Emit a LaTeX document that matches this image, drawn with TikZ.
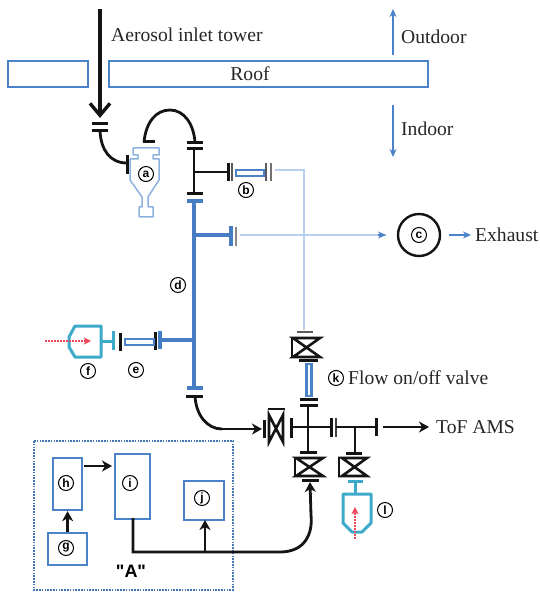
\documentclass[tikz,border=0pt]{standalone}
\usepackage{fontspec}
\setmainfont{Liberation Serif}
\setsansfont{Liberation Sans}
\newfontfamily\qfont{Liberation Sans}
\usetikzlibrary{arrows.meta,calc}
\definecolor{bl}{RGB}{75,130,200}
\definecolor{blb}{RGB}{70,125,195}
\definecolor{lb}{RGB}{185,208,238}
\definecolor{teal2}{RGB}{60,170,200}
\definecolor{rd}{RGB}{240,70,90}
\definecolor{dk}{RGB}{20,20,20}
\tikzset{
 x=1pt,y=-1pt,
 txt/.style={inner sep=0pt,anchor=west,font=\fontsize{19.6}{21}\selectfont,text=black!85},
 circ/.style={circle,draw=black,line width=1pt,fill=white,inner sep=0pt,minimum size=15pt,font=\sffamily\bfseries\fontsize{12}{12}\selectfont},
 pipe/.style={line width=2.8pt,draw=dk},
 fl/.style={line width=3pt,draw=dk},
 bpipe/.style={line width=3.6pt,draw=blb},
 bfl/.style={line width=3.6pt,draw=blb},
 thinb/.style={line width=1.6pt,draw=lb},
 boxb/.style={draw=bl,line width=2.2pt,fill=white,inner sep=0pt},
 tube/.style={draw=bl,line width=2.4pt,fill=white,inner sep=0pt},
 tl/.style={draw=teal2,line width=3pt,line join=round},
 hg/.style={draw=dk,line width=2.6pt,line join=miter},
 arr/.style={-{Stealth[length=10pt,width=11pt,inset=3pt]},line width=2.8pt,draw=dk},
 bluearr/.style={-{Stealth[length=8pt,width=7pt,inset=2.5pt]},line width=1.2pt,draw=bl},
 redarr/.style={-{Stealth[length=7pt,width=7pt,inset=1.5pt]},line width=1.3pt,draw=rd,dash pattern=on 2pt off 1pt},
}
\begin{document}
\begin{tikzpicture}
\useasboundingbox (0,0) rectangle (539,593);
% roof
\draw[draw=bl,line width=2pt] (8,61) rectangle (88,87);
\draw[draw=bl,line width=2pt] (109,61) rectangle (428,87);
\node[txt,anchor=center] (roof) at (250,74) {Roof};
\node[txt] (tower) at (111,35) {Aerosol inlet tower};
\node[txt] (outd) at (401,37) {Outdoor};
\node[txt] (ind) at (401,129) {Indoor};
\coordinate (ou0) at (393,55); \coordinate (ou1) at (393,9);
\coordinate (in0) at (393,105); \coordinate (in1) at (393,157);
\draw[bluearr] (ou0) -- (ou1);
\draw[bluearr] (in0) -- (in1);
% inlet
\coordinate (t0) at (100,9); \coordinate (t1) at (100,118);
\draw[-{Straight Barb[length=12pt,width=20pt]},line width=3.4pt,draw=dk] (t0) -- (t1);
\draw[fl] (92,124) -- (108,124); \draw[fl] (92,131) -- (108,131);
\coordinate (c0) at (100,131); \coordinate (c1) at (127,163);
\draw[pipe] (c0) .. controls (101,150) and (110,163) .. (c1);
\draw[fl] (127,155) -- (127,174);
% cyclone a
\draw[draw=lb!60!bl,line width=1.5pt,line join=round]
 (133,148)--(159,148)--(159,155)--(153,155)--(153,159)--(159,159)--(159,180)--(148,197)--(148,207)--(153,207)--(153,217)--(139,217)--(139,207)--(142,207)--(142,197)--(130,180)--(130,159)--(138,159)--(138,155)--(133,155)--cycle;
\draw[fl] (143,142) -- (155,142);
\coordinate (ca) at (144,142); \coordinate (cb) at (195,143); \coordinate (ct) at (170,110);
\draw[pipe] (ca) .. controls (146,122) and (156,110) .. (ct) .. controls (184,110) and (194,124) .. (cb);
\draw[fl] (187,143) -- (203,143); \draw[fl] (187,149) -- (203,149);
\coordinate (s0) at (194,149); \coordinate (s1) at (194,194); \coordinate (s2) at (194,172); \coordinate (s3) at (228,172);
\draw[pipe] (s0) -- (s1); \draw[pipe] (s2) -- (s3);
\draw[fl] (228,163) -- (228,181); \draw[line width=2.4pt,draw=dk!70] (232,163) -- (232,181);
\node[tube,minimum width=28pt,minimum height=6pt,anchor=west] (tb) at (235,173) {};
\draw[line width=2pt,draw=dk!70] (266,163) -- (266,181); \draw[line width=2pt,draw=dk!60] (271,163) -- (271,181);
\coordinate (l0) at (275,170); \coordinate (l1) at (304,170); \coordinate (l2) at (304,330);
\draw[thinb] (l0) -- (l1) -- (l2);
\draw[fl] (187,194) -- (203,194);
\draw[bfl] (187,201) -- (203,201);
% blue column
\coordinate (d0) at (194,201); \coordinate (d1) at (194,388);
\draw[bpipe] (d0) -- (d1);
\coordinate (d2) at (194,235); \coordinate (d3) at (231,235);
\draw[bpipe] (d2) -- (d3);
\draw[bfl] (231,226) -- (231,246);
\draw[line width=1.5pt,draw=dk!50] (236,227) -- (236,246);
\coordinate (ex0) at (240,235);
\node[circle,draw=dk,line width=2.4pt,minimum size=42pt,inner sep=0pt] (C) at (419,235) {};
\coordinate (ex1) at (386,235);
\draw[thinb] (ex0) -- (ex1);
\draw[-{Stealth[length=8pt,width=7pt,inset=2.5pt]},line width=1.2pt,draw=bl] (378,235) coordinate (ex2) (ex2) -- (ex1);
\coordinate (cx) at (471,235); \coordinate (cx0) at (449,235);
\draw[bluearr,line width=1.6pt] (cx0) -- (cx);
\node[txt,anchor=west] (exh) at (475,235) {Exhaust};
% e, f branch
\coordinate (d4) at (194,340); \coordinate (d5) at (160,340);
\draw[bpipe] (d4) -- (d5);
\draw[bfl] (160,331) -- (160,349);
\draw[fl] (155,332) -- (155,350);
\node[tube,minimum width=29pt,minimum height=6pt,anchor=west] (te) at (124,342) {};
\draw[fl] (120,333) -- (120,351);
\draw[tl] (113,331) -- (113,350);
\coordinate (f0) at (113,341); \coordinate (f1) at (101,341);
\draw[tl] (f0) -- (f1);
\draw[tl] (101,326) -- (75,326) -- (69,337) -- (69,347) -- (75,357) -- (101,357) -- cycle;
\coordinate (r0) at (45,341); \coordinate (r1) at (91,341);
\draw[redarr] (r0) -- (r1);
% lower column
\draw[bfl] (187,388) -- (203,388);
\draw[fl] (186,396) -- (203,396);
\coordinate (v0) at (195,396); \coordinate (v1) at (262,429); \coordinate (v2) at (222,429);
\draw[pipe] (v0) .. controls (196,415) and (207,429) .. (v2);
\draw[arr] (v2) -- (v1);
\draw[fl] (264,420) -- (264,438);
% left valve
\draw[hg] (269,415) -- (283,442) -- (283,415) -- (269,442) -- cycle;
\draw[hg] (268,409) -- (285,409);
% cross
\coordinate (cr) at (308,427);
\draw[fl] (291,418) -- (291,438);
\coordinate (h0) at (291,427); \coordinate (h1) at (331,427);
\draw[pipe] (h0) -- (h1);
\draw[fl] (331,418) -- (331,437); \draw[line width=2.4pt,draw=dk!80] (336,418) -- (336,437);
\coordinate (h2) at (336,427); \coordinate (h3) at (376,427);
\draw[pipe] (h2) -- (h3);
\draw[fl] (376,418) -- (376,436);
\coordinate (h4) at (383,427); \coordinate (h5) at (429,427);
\draw[arr] (h4) -- (h5);
\node[txt] (tof) at (436,427) {ToF AMS};
% top valve
\draw[line width=1.6pt,draw=dk!70] (297,332) -- (313,332);
\draw[hg] (293,338) -- (320,338) -- (293,357) -- (320,357) -- cycle;
\draw[hg] (292,337) -- (292,357);
\draw[fl] (299,360) -- (318,360);
\node[tube,minimum width=5pt,minimum height=32pt,anchor=north] (tk) at (309,363) {};
\draw[fl] (300,399) -- (318,399); \draw[fl] (300,405) -- (318,405);
\coordinate (k0) at (308,405); \coordinate (k1) at (308,452);
\draw[pipe] (k0) -- (k1);
% bottom valves
\draw[fl] (300,452) -- (317,452);
\draw[hg] (296,458) -- (323,458) -- (296,476) -- (323,476) -- cycle;
\draw[hg] (295,457) -- (295,477);
\draw[fl] (302,480) -- (319,480);
\coordinate (b0) at (355,427); \coordinate (b1) at (355,453);
\draw[pipe] (b0) -- (b1);
\draw[fl] (346,453) -- (362,453);
\draw[hg] (342,458) -- (367,458) -- (342,476) -- (367,476) -- cycle;
\draw[hg] (339,457) -- (339,477);
% l
\draw[tl] (348,481) -- (363,481);
\coordinate (l3) at (355,481); \coordinate (l4) at (355,494);
\draw[tl] (l3) -- (l4);
\draw[tl] (343,494) -- (371,494) -- (371,523) -- (362,532) -- (352,532) -- (343,523) -- cycle;
\coordinate (r2) at (355,539); \coordinate (r3) at (355,507);
\draw[redarr] (r2) -- (r3);
% box A
\draw[draw=bl!90!black,line width=2pt,dash pattern=on 1.6pt off 1.2pt] (34,441) rectangle (233,590);
\node[boxb,minimum width=29pt,minimum height=52pt,anchor=north west] (h) at (52,457) {};
\node[boxb,minimum width=35pt,minimum height=65pt,anchor=north west] (i) at (114,453) {};
\node[boxb,minimum width=40pt,minimum height=39pt,anchor=north west] (j) at (183,480) {};
\node[boxb,minimum width=39pt,minimum height=32pt,anchor=north west] (g) at (47,532) {};
\coordinate (hi0) at (84,466); \coordinate (hi1) at (112,466);
\draw[arr] (hi0) -- (hi1);
\draw[arr] (g.north) -- (h.south);
\coordinate (i0) at (133,518); \coordinate (i1) at (133,552); \coordinate (i2) at (280,552); \coordinate (j1) at (205,552); \coordinate (j2) at (205,520);
\coordinate (up) at (310,482);
\draw[pipe,arrows={-{Stealth[length=10pt,width=11pt,inset=3pt]}}] (i0) -- (i1) -- (i2) .. controls (304,552) and (313,535) .. (311,515) -- (up);
\draw[arr] (j1) -- (j2);
\node[inner sep=0pt,font=\qfont\bfseries\fontsize{18}{18}\selectfont] (A) at (131,571) {"A"};
% circled labels
\node[circ] (la) at (146,174) {a};
\node[circ] (lb) at (246,190) {b};
\node[circ] at (419,235) (lc) {c};
\node[circ] (ld) at (178,285) {d};
\node[circ] (le) at (136,370) {e};
\node[circ] (lf) at (88,371) {f};
\node[circ] (lg) at (66,548) {g};
\node[circ] (lh) at (66,483) {h};
\node[circ] (li) at (130,483) {i};
\node[circ] (lj) at (202,498) {j};
\node[circ] (lk) at (336,378) {k};
\node[circ] (ll) at (385,510) {l};
\node[txt] (fv) at (348,378) {Flow on/off valve};
\end{tikzpicture}
\end{document}
